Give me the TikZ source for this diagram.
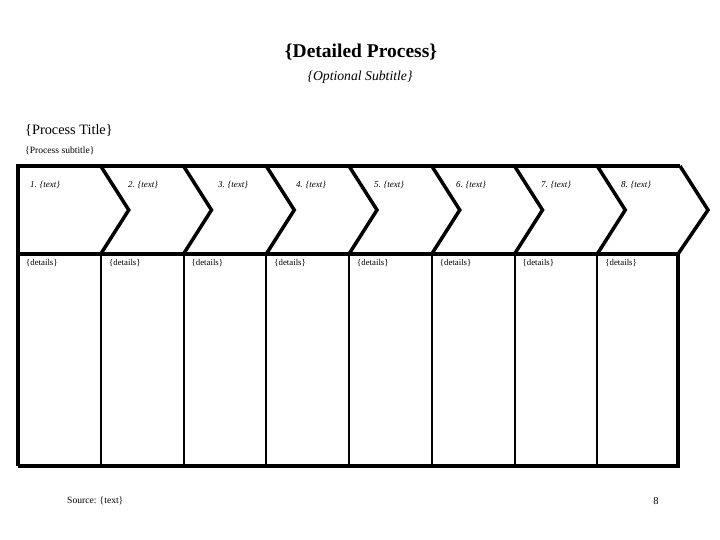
\documentclass[tikz,border=0pt]{standalone}
\usepackage{fontspec}
\setmainfont{Liberation Serif}
\tikzset{
	frameline/.style={line width=3.5pt, line join=miter},
	divline/.style={line width=2pt},
	steplabel/.style={font=\fontsize{9}{10}\selectfont\itshape, inner sep=0pt},
	detaillabel/.style={font=\fontsize{8.8}{10}\selectfont, inner sep=0pt, anchor=west}
}
\begin{document}
\begin{tikzpicture}[x=1pt, y=-1pt]
	
	\useasboundingbox (0, 0) rectangle (720, 540);
	
	\node[font=\fontsize{19.5}{22}\selectfont\bfseries] at (361, 52) (title) {\{Detailed Process\}};
	\node[font=\fontsize{13.7}{16}\selectfont\itshape] at (360, 77) (subtitle) {\{Optional Subtitle\}};
	\node[font=\fontsize{14.3}{16}\selectfont, anchor=west, inner sep=0pt] at (25, 130) (ptitle) {\{Process Title\}};
	\node[font=\fontsize{9.6}{11}\selectfont, anchor=west, inner sep=0pt] at (25, 151) (psub) {\{Process subtitle\}};
	
	% chevron row
	\draw[frameline] (18, 466) -- (18, 166) -- (680, 166);
	\draw[frameline] (18, 254) -- (678, 254);
	\draw[frameline] (18, 466) -- (678, 466) -- (678, 254);
	
	\draw[frameline] (100.75, 166) -- (128.75, 210) -- (100.75, 254);
	\draw[frameline] (183.5, 166) -- (211.5, 210) -- (183.5, 254);
	\draw[frameline] (266.25, 166) -- (294.25, 210) -- (266.25, 254);
	\draw[frameline] (349, 166) -- (377, 210) -- (349, 254);
	\draw[frameline] (431.75, 166) -- (459.75, 210) -- (431.75, 254);
	\draw[frameline] (514.5, 166) -- (542.5, 210) -- (514.5, 254);
	\draw[frameline] (597.25, 166) -- (625.25, 210) -- (597.25, 254);
	\draw[frameline] (680, 166) -- (708, 210) -- (678, 254);
	
	% detail columns
	\draw[divline] (100.75, 254) -- (100.75, 466);
	\draw[divline] (183.5, 254) -- (183.5, 466);
	\draw[divline] (266.25, 254) -- (266.25, 466);
	\draw[divline] (349, 254) -- (349, 466);
	\draw[divline] (431.75, 254) -- (431.75, 466);
	\draw[divline] (514.5, 254) -- (514.5, 466);
	\draw[divline] (597.25, 254) -- (597.25, 466);
	
	\node[steplabel] at (45, 185) (s1) {1. \{text\}};
	\node[steplabel] at (143, 185) (s2) {2. \{text\}};
	\node[steplabel] at (233, 185) (s3) {3. \{text\}};
	\node[steplabel] at (311, 185) (s4) {4. \{text\}};
	\node[steplabel] at (389, 185) (s5) {5. \{text\}};
	\node[steplabel] at (471, 185) (s6) {6. \{text\}};
	\node[steplabel] at (556, 185) (s7) {7. \{text\}};
	\node[steplabel] at (636, 185) (s8) {8. \{text\}};
	
	\node[detaillabel] at (26, 263) (d1) {\{details\}};
	\node[detaillabel] at (109, 263) (d2) {\{details\}};
	\node[detaillabel] at (191.5, 263) (d3) {\{details\}};
	\node[detaillabel] at (274.25, 263) (d4) {\{details\}};
	\node[detaillabel] at (357, 263) (d5) {\{details\}};
	\node[detaillabel] at (439.75, 263) (d6) {\{details\}};
	\node[detaillabel] at (522.5, 263) (d7) {\{details\}};
	\node[detaillabel] at (605.25, 263) (d8) {\{details\}};
	
	\node[font=\fontsize{9.6}{11}\selectfont, inner sep=0pt, anchor=west] at (67, 501) (source) {Source: \{text\}};
	\node[font=\fontsize{10.5}{12}\selectfont, inner sep=0pt] at (656, 501) (pageno) {8};
	
\end{tikzpicture}
\end{document}
